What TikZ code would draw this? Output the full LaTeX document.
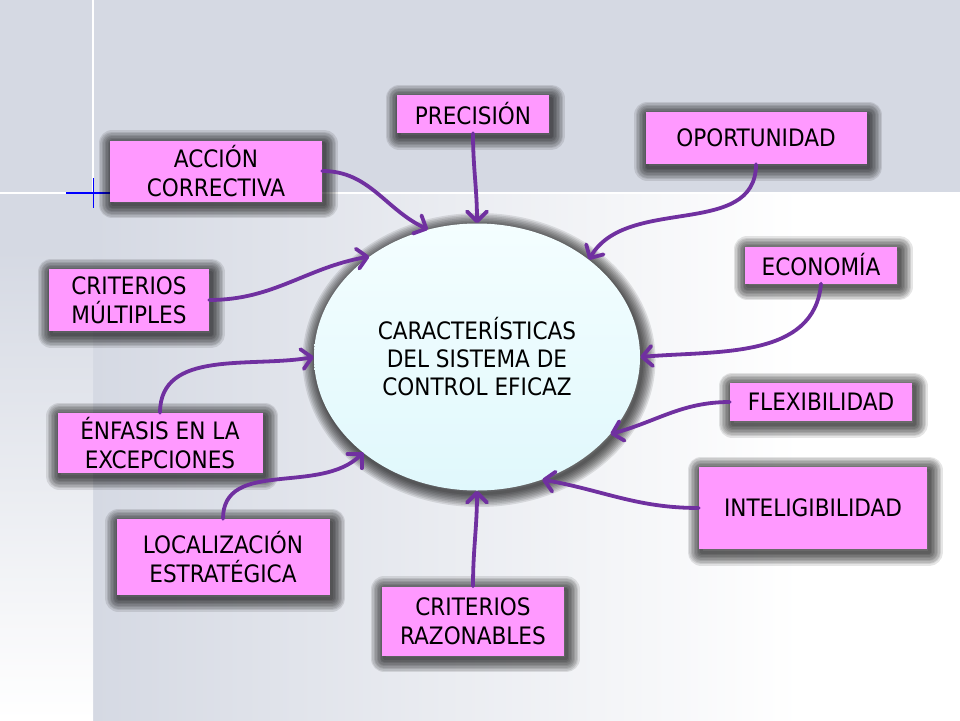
\documentclass[tikz,border=0pt]{standalone}
\usepackage{fontspec}
\setmainfont{DejaVu Sans Condensed}
\usetikzlibrary{positioning,arrows.meta,shapes.geometric}
\definecolor{fondo}{HTML}{D5D9E3}
\definecolor{rosa}{HTML}{FF99FF}
\definecolor{morado}{HTML}{7030A0}
\definecolor{celestea}{HTML}{F4FEFF}
\definecolor{celesteb}{HTML}{E0F8FC}
\tikzset{
	halo/.style={preaction={draw=black, line width=#1, draw opacity=0.1, line join=round,
		transform canvas={shift={(2pt,-3pt)}}}},
	sombra/.style={halo=27pt, halo=24pt, halo=21pt, halo=18pt, halo=15pt, halo=12pt, halo=9pt, halo=6pt, halo=3pt},
	caja/.style={fill=rosa, align=center, inner sep=0pt, font=\fontsize{24}{29}\selectfont, sombra},
	flecha/.style={-{Straight Barb[length=10pt,width=20pt,round]}, line width=3.8pt, draw=morado, line cap=round}
}
\begin{document}
\begin{tikzpicture}[x=1pt,y=1pt]
	% FONDO
	\useasboundingbox (0,0) rectangle (960,-720);
	\fill[fondo] (0,0) rectangle (960,-720);
	\shade[left color=fondo, right color=white] (93,-193) rectangle (800,-720);
	\fill[white] (800,-193) rectangle (960,-720);
	\shade[top color=fondo, bottom color=white] (0,-250) rectangle (93,-720);
	\draw[white, line width=1.5pt] (0,-193) -- (960,-193);
	\draw[white, line width=1.5pt] (93,0) -- (93,-193);
	\draw[blue, line width=1.2pt] (66,-193) -- (112,-193);
	\draw[blue, line width=0.8pt] (93,-178) -- (93,-208);
	
	% CENTRO
	\node[ellipse, minimum width=326pt, minimum height=267pt, top color=celestea, bottom color=celesteb,
		align=center, font=\fontsize{24}{28}\selectfont, sombra]
		(centro) at (477,-357) {CARACTERÍSTICAS\\DEL SISTEMA DE\\CONTROL EFICAZ};
	
	% CAJAS
	\node[caja, minimum width=152pt, minimum height=38pt] (prec) at (473,-114) {PRECISIÓN};
	\node[caja, minimum width=212pt, minimum height=61pt] (accion) at (216,-171) {ACCIÓN\\CORRECTIVA};
	\node[caja, minimum width=221pt, minimum height=52pt] (oport) at (756,-138) {OPORTUNIDAD};
	\node[caja, minimum width=152pt, minimum height=37pt] (econ) at (821,-265) {ECONOMÍA};
	\node[caja, minimum width=182pt, minimum height=38pt] (flex) at (821,-402) {FLEXIBILIDAD};
	\node[caja, minimum width=228pt, minimum height=82pt] (intel) at (813,-508) {INTELIGIBILIDAD};
	\node[caja, minimum width=182pt, minimum height=69pt] (razon) at (473,-621) {CRITERIOS\\RAZONABLES};
	\node[caja, minimum width=213pt, minimum height=76pt] (local) at (223,-557) {LOCALIZACIÓN\\ESTRATÉGICA};
	\node[caja, minimum width=205pt, minimum height=60pt] (enfasis) at (160,-443) {ÉNFASIS EN LA\\EXCEPCIONES};
	\node[caja, minimum width=160pt, minimum height=62pt] (multi) at (129,-300) {CRITERIOS\\MÚLTIPLES};
	
	% FLECHAS
	\draw[flecha] (prec.south) to[out=-90,in=90] (centro.90);
	\draw[flecha] (accion.east) to[out=0,in=155] (centro.111);
	\draw[flecha] (oport.south) to[out=-90,in=60] (centro.41);
	\draw[flecha] (econ.south) to[out=-95,in=5] (centro.0);
	\draw[flecha] (flex.west) to[out=180,in=15] (centro.-30);
	\draw[flecha] (intel.west) to[out=180,in=-10] (centro.-62);
	\draw[flecha] (razon.north) to[out=90,in=-90] (centro.-90);
	\draw[flecha] (local.north) to[out=90,in=-135] (centro.-140);
	\draw[flecha] (enfasis.north) to[out=90,in=190] (centro.180);
	\draw[flecha] (multi.east) to[out=0,in=190] (centro.137);
\end{tikzpicture}
\end{document}
